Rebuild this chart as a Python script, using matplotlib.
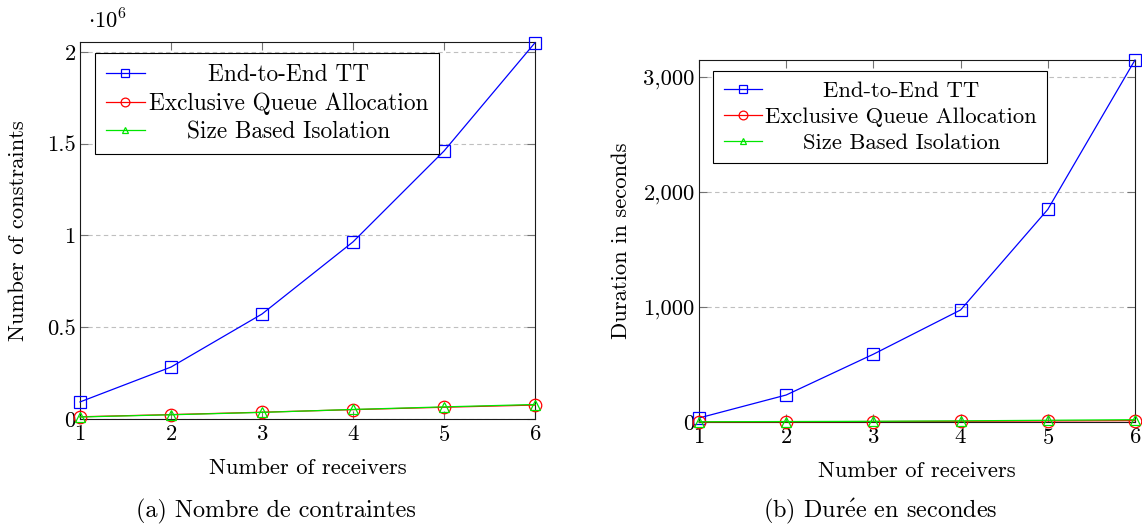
import matplotlib
matplotlib.use("Agg")
import matplotlib.pyplot as plt
from matplotlib.ticker import FuncFormatter, MultipleLocator

plt.rcParams['font.family'] = 'serif'
plt.rcParams['font.serif'] = ['cmr10']
plt.rcParams['mathtext.fontset'] = 'cm'
plt.rcParams['axes.formatter.use_mathtext'] = True

receivers = [1, 2, 3, 4, 5, 6]
series_labels = ["End-to-End TT", "Exclusive Queue Allocation", "Size Based Isolation"]

constraints_e2e = [0.093e6, 0.283e6, 0.572e6, 0.965e6, 1.46e6, 2.05e6]
constraints_eqa = [0.012e6, 0.024e6, 0.037e6, 0.051e6, 0.064e6, 0.076e6]
constraints_sbi = [0.011e6, 0.023e6, 0.036e6, 0.052e6, 0.066e6, 0.079e6]

duration_e2e = [35, 235, 590, 975, 1850, 3150]
duration_eqa = [1, 2, 4, 6, 9, 12]
duration_sbi = [2, 4, 6, 10, 15, 20]

FS = 16.3
CAP_FS = 17.4
W, H = 1142, 526
fig = plt.figure(figsize=(W / 100, H / 100), dpi=100)

ax1 = fig.add_axes([80 / W, 1 - 419 / H, 455 / W, 377 / H])
ax2 = fig.add_axes([699 / W, 1 - 422 / H, 436 / W, 362 / H])

styles = [dict(color=(0, 0, 1), marker='s', markersize=9),
          dict(color=(1, 0, 0), marker='o', markersize=9),
          dict(color=(0, 0.9, 0), marker='^', markersize=7)]


def draw(ax, ys, ylim, caption, cap_x, ylabel, ylabelpad, text_fs):
    for y, lab, st in zip(ys, series_labels, styles):
        ax.plot(receivers, y, label=lab, color=st['color'], marker=st['marker'],
                markersize=st['markersize'], markerfacecolor='none',
                markeredgecolor=st['color'], markeredgewidth=0.9,
                linewidth=0.9, clip_on=False, zorder=3)
    ax.set_xlim(1, 6)
    ax.set_ylim(*ylim)
    ax.set_xticks(receivers)
    ax.tick_params(direction='in', length=6, width=0.8, color='0.45',
                   top=True, right=True, labelsize=FS, pad=4)
    ax.tick_params(axis='y', pad=3)
    ax.grid(axis='y', linestyle=(0, (4, 3)), color='0.75', linewidth=0.8)
    ax.set_axisbelow(True)
    for s in ax.spines.values():
        s.set_color('0.1')
        s.set_linewidth(0.8)
    ax.set_xlabel("Number of receivers", fontsize=FS, labelpad=10)
    ax.set_ylabel(ylabel, fontsize=FS, labelpad=ylabelpad)
    fig.text(cap_x / W, 1 - 511 / H, caption, ha='center', va='center',
             fontsize=CAP_FS)
    leg = ax.legend(loc='upper left', bbox_to_anchor=(0.033, 0.97),
                    borderaxespad=0, fancybox=False, edgecolor='black',
                    framealpha=1, fontsize=text_fs, handlelength=1.7,
                    handletextpad=0.15, labelspacing=0.28, borderpad=0.45,
                    markerscale=0.7)
    leg.get_frame().set_linewidth(0.8)
    return leg


leg1 = draw(ax1, [constraints_e2e, constraints_eqa, constraints_sbi],
            (0, 2.054e6), "(a) Nombre de contraintes", 276,
            "Number of constraints", 14, 16.8)
ax1.yaxis.set_major_locator(MultipleLocator(0.5e6))
ax1.yaxis.set_major_formatter(FuncFormatter(lambda v, p: f"{v / 1e6:g}"))
ax1.text(0.018, 1.025, r"$\cdot 10^6$", transform=ax1.transAxes, fontsize=FS,
         ha='left', va='bottom')

leg2 = draw(ax2, [duration_e2e, duration_eqa, duration_sbi],
            (0, 3150), r"(b) Dur$\acute{\mathrm{e}}$e en secondes", 880,
            "Duration in seconds", 9, 16.3)
ax2.yaxis.set_major_locator(MultipleLocator(1000))
ax2.yaxis.set_major_formatter(FuncFormatter(lambda v, p: f"{int(v):,}"))

# centre legend texts within their column (pgfplots style)
fig.canvas.draw()
r = fig.canvas.get_renderer()
for leg in (leg1, leg2):
    texts = leg.get_texts()
    ws = [t.get_window_extent(r).width for t in texts]
    mw = max(ws)
    for t, w in zip(texts, ws):
        t.set_x(t.get_position()[0] + (mw - w) / 2)

fig.savefig("out.png", dpi=100)
